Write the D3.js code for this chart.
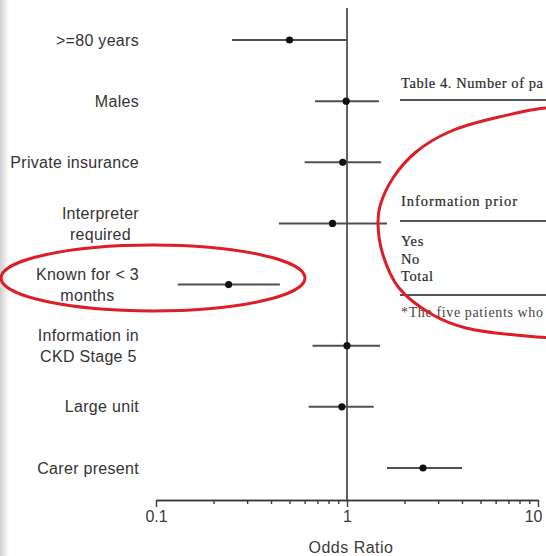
<!DOCTYPE html>
<html>
<head>
<meta charset="utf-8">
<script src="https://cdn.jsdelivr.net/npm/d3@7"></script>
<style>
  html, body { margin: 0; padding: 0; background: #fff; }
  svg { display: block; }
</style>
</head>
<body>
<svg id="chart" width="546" height="556"></svg>
<script>
// Forest plot: odds ratios with 95% confidence intervals
const labels = [
  [">=80 years"],
  ["Males"],
  ["Private insurance"],
  ["Interpreter", "required"],
  ["Known for < 3", "months"],
  ["Information in", "CKD Stage 5"],
  ["Large unit"],
  ["Carer present"]
];
const oddsRatio = [0.50, 0.99, 0.95, 0.84, 0.24, 1.00, 0.94, 2.50];
const ciLower   = [0.25, 0.68, 0.60, 0.44, 0.13, 0.66, 0.63, 1.62];
const ciUpper   = [1.00, 1.47, 1.51, 1.62, 0.445, 1.49, 1.38, 4.00];
const majorTicks = [0.1, 1, 10];
const majorTickLabels = ["0.1", "1", "10"];
const minorTicks = [0.2, 0.3, 0.4, 0.5, 0.6, 0.7, 0.8, 0.9, 2, 3, 4, 5, 6, 7, 8, 9];

// Table excerpt shown beside the plot (only its left part is in view)
const tableCaption = "Table 4. Number of pa";
const tableHeader = "Information prior";
const tableRows = ["Yes", "No", "Total"];
const tableFootnote = "*The five patients who";

const svg = d3.select("#chart");
const W = 546, H = 556;

// faint shadow on the left edge of the page
const defs = svg.append("defs");
const grad = defs.append("linearGradient").attr("id", "edge").attr("x1", 0).attr("x2", 1);
grad.append("stop").attr("offset", 0).attr("stop-color", "#cfcfcf");
grad.append("stop").attr("offset", 1).attr("stop-color", "#ffffff");
svg.append("rect").attr("x", 0).attr("y", 0).attr("width", 9).attr("height", H).attr("fill", "url(#edge)");

const x = d3.scaleLog().domain([0.1, 10]).range([156, 538]);
const y = d3.scalePoint().domain(d3.range(labels.length)).range([40, 468]);
const axisY = 500;

// reference line at OR = 1
svg.append("line")
  .attr("x1", x(1)).attr("x2", x(1))
  .attr("y1", 8).attr("y2", axisY)
  .attr("stroke", "#3a3a3a").attr("stroke-width", 1.6);

// axes
const fontFam = "'Liberation Sans', Arial, Helvetica, sans-serif";
const minorAxis = svg.append("g").attr("transform", `translate(0,${axisY})`)
  .call(d3.axisBottom(x).tickValues(minorTicks).tickSize(4).tickSizeOuter(0).tickFormat(""));
const majorAxis = svg.append("g").attr("transform", `translate(0,${axisY})`)
  .call(d3.axisBottom(x).tickValues(majorTicks).tickSize(7).tickSizeOuter(0)
    .tickFormat((d, i) => majorTickLabels[i]));
[minorAxis, majorAxis].forEach(g => {
  g.selectAll("path, line").attr("stroke", "#3a3a3a").attr("stroke-width", 1.4);
});
majorAxis.selectAll("text")
  .attr("font-family", fontFam).attr("font-size", 16)
  .attr("fill", "#3a3a3a").attr("y", 11).attr("dy", "0.71em");
// the last label sits just inside the right edge
majorAxis.selectAll(".tick").filter(d => d === 10).select("text")
  .attr("text-anchor", "end").attr("x", 4);

svg.append("text")
  .attr("x", x(1) + 4).attr("y", 553)
  .attr("text-anchor", "middle")
  .attr("font-family", fontFam).attr("font-size", 16).attr("letter-spacing", 0.5)
  .attr("fill", "#3a3a3a")
  .text("Odds Ratio");

// confidence intervals and point estimates
const rows = svg.append("g");
rows.selectAll("line.ci").data(labels).join("line")
  .attr("class", "ci")
  .attr("x1", (d, i) => x(ciLower[i])).attr("x2", (d, i) => x(ciUpper[i]))
  .attr("y1", (d, i) => y(i)).attr("y2", (d, i) => y(i))
  .attr("stroke", "#505050").attr("stroke-width", 2);
rows.selectAll("circle").data(labels).join("circle")
  .attr("cx", (d, i) => x(oddsRatio[i])).attr("cy", (d, i) => y(i))
  .attr("r", 3.6).attr("fill", "#111");

// row labels: right-aligned block, multi-line labels centered within the block
const labelRight = 139;
const lab = svg.append("g")
  .attr("font-family", fontFam).attr("font-size", 16).attr("letter-spacing", 0.3)
  .attr("fill", "#333");
labels.forEach((lines, i) => {
  const t = lab.append("text").attr("dominant-baseline", "central");
  if (lines.length === 1) {
    t.attr("text-anchor", "end").attr("x", labelRight).attr("y", y(i)).text(lines[0]);
  } else {
    const spans = lines.map((s, k) => t.append("tspan")
      .attr("y", y(i) + (k - (lines.length - 1) / 2) * 21).text(s));
    const widths = spans.map(s => s.node().getComputedTextLength());
    const cx = labelRight - d3.max(widths) / 2;
    t.attr("text-anchor", "middle");
    spans.forEach(s => s.attr("x", cx));
  }
});

// table excerpt
const serif = "'Liberation Serif', 'DejaVu Serif', 'Times New Roman', serif";
const tbl = svg.append("g")
  .attr("font-family", serif).attr("font-size", 14.5)
  .attr("fill", "#2a2a2a").attr("stroke", "#2a2a2a").attr("stroke-width", 0.2);
tbl.append("text").attr("x", 401).attr("y", 88)
  .attr("textLength", 142).attr("lengthAdjust", "spacing").text(tableCaption);
tbl.append("text").attr("x", 401).attr("y", 206)
  .attr("textLength", 116).attr("lengthAdjust", "spacing").text(tableHeader);
tableRows.forEach((r, k) => tbl.append("text").attr("x", 401).attr("y", 246 + k * 17.5)
  .attr("letter-spacing", 0.6).text(r));
tbl.append("text").attr("x", 401).attr("y", 317).attr("stroke-width", 0).attr("fill", "#444")
  .attr("font-size", 14).attr("textLength", 142).attr("lengthAdjust", "spacing")
  .text(tableFootnote);
[100, 221, 295].forEach(ly => svg.append("line")
  .attr("x1", 400).attr("x2", W).attr("y1", ly).attr("y2", ly)
  .attr("stroke", "#555").attr("stroke-width", 2));

// red highlight rings
const hl = svg.append("g").attr("fill", "none").attr("stroke", "#dc1f26").attr("stroke-width", 3);
hl.append("ellipse").attr("cx", 153).attr("cy", 278).attr("rx", 152).attr("ry", 33);
const ringPts = [
  [378, 224], [383, 255], [399, 288], [433, 315], [466, 328], [516, 335], [560, 337],
  [610, 320], [625, 224], [610, 125], [560, 108], [499, 117], [449, 132], [416, 152],
  [393, 178], [380, 206]
];
hl.append("path")
  .attr("d", d3.line().curve(d3.curveCatmullRomClosed.alpha(0.5))(ringPts));
</script>
</body>
</html>
